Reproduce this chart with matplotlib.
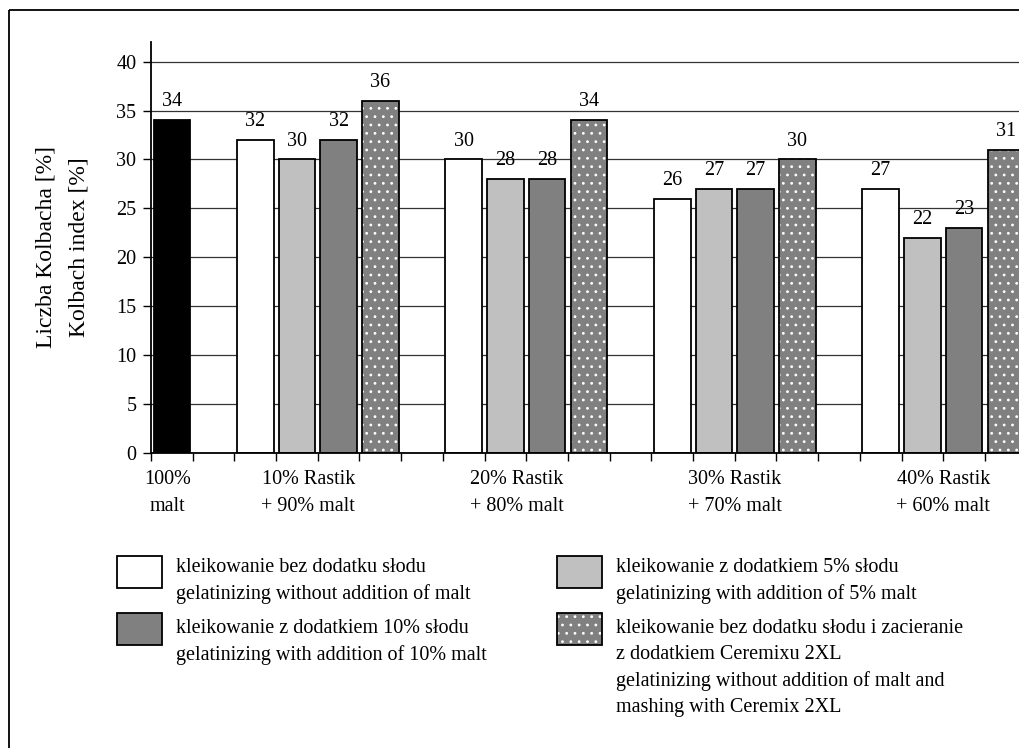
import numpy as np
import matplotlib.pyplot as plt
from matplotlib.patches import Rectangle

plt.rcParams['font.family'] = ['Liberation Serif', 'DejaVu Serif']
plt.rcParams['hatch.linewidth'] = 0.8

# Dane
control_label = '100%\nmalt'
control_value = 34
group_labels = ['10% Rastik\n+ 90% malt', '20% Rastik\n+ 80% malt',
                '30% Rastik\n+ 70% malt', '40% Rastik\n+ 60% malt']
no_malt = [32, 30, 26, 27]
malt_5 = [30, 28, 27, 22]
malt_10 = [32, 28, 27, 23]
ceremix = [36, 34, 30, 31]
series = [no_malt, malt_5, malt_10, ceremix]
series_names = [
    'kleikowanie bez dodatku słodu\ngelatinizing without addition of malt',
    'kleikowanie z dodatkiem 5% słodu\ngelatinizing with addition of 5% malt',
    'kleikowanie z dodatkiem 10% słodu\ngelatinizing with addition of 10% malt',
    'kleikowanie bez dodatku słodu i zacieranie\nz dodatkiem Ceremixu 2XL\n'
    'gelatinizing without addition of malt and\nmashing with Ceremix 2XL',
]
y_ticks = np.arange(0, 41, 5)

# Styl
face_colors = ['white', '#c0c0c0', '#808080', '#808080']
hatches = [None, None, None, '..']
bar_w = 0.88
label_x = [0.39, 3.77, 8.77, 14.0, 19.0]

W, H = 1020, 748
fig = plt.figure(figsize=(W / 100, H / 100), dpi=100)

# warstwa w pikselach: ramka i legenda
over = fig.add_axes([0, 0, 1, 1], zorder=0)
over.set_xlim(0, W)
over.set_ylim(H, 0)
over.axis('off')
over.add_patch(Rectangle((9.5, 9.5), 1200, 1000, fill=False, lw=1.3, ec='black'))

ax = fig.add_axes([151 / W, 1 - 453 / H, (W - 151) / W, (453 - 42) / H], zorder=1)
ax.patch.set_alpha(0)


def draw_bar(x, h, fc, hatch):
    if hatch:
        ax.bar(x, h, width=bar_w, color=fc, edgecolor='white', hatch=hatch, lw=0, zorder=2)
        ax.bar(x, h, width=bar_w, color='none', edgecolor='black', lw=1.3, zorder=3)
    else:
        ax.bar(x, h, width=bar_w, color=fc, edgecolor='black', lw=1.3, zorder=2)
    ax.annotate(f'{h}', (x, h), xytext=(0, 10), textcoords='offset points',
                ha='center', va='baseline', fontsize=14.5)


draw_bar(0.5, control_value, 'black', None)
for g in range(len(group_labels)):
    for s, vals in enumerate(series):
        draw_bar(2 + 5 * g + s + 0.5, vals[g], face_colors[s], hatches[s])

ax.set_xlim(0, (W - 151) / 41.7)
ax.set_ylim(0, 42)
ax.set_yticks(y_ticks)
ax.set_xticks(np.arange(0, 21))
ax.set_xticklabels([])
ax.yaxis.grid(True, color='#333333', lw=0.9, zorder=0)
ax.set_axisbelow(True)
ax.tick_params(direction='out', length=5.5, width=1, labelsize=14.5, pad=5)
for side in ['top', 'right']:
    ax.spines[side].set_visible(False)
for side in ['left', 'bottom']:
    ax.spines[side].set_linewidth(1.3)

for x, lab in zip(label_x, [control_label] + group_labels):
    ax.annotate(lab, (x, 0), xytext=(0, -12), textcoords='offset points',
                ha='center', va='top', fontsize=14.5, linespacing=1.6)

fig.text(63 / W, 1 - 247 / H, 'Liczba Kolbacha [%]\nKolbach index [%]',
         rotation=90, ha='center', va='center', fontsize=17, linespacing=1.75)

# legenda
leg_pos = [(117, 556), (557, 556), (117, 613), (557, 613)]
leg_text_dy = [2, 2, 6, 6]
for (px, py), dy, name, fc, hatch in zip(leg_pos, leg_text_dy, series_names,
                                         face_colors, hatches):
    if hatch:
        over.add_patch(Rectangle((px, py), 45, 32, fc=fc, ec='white', hatch=hatch, lw=0))
        over.add_patch(Rectangle((px, py), 45, 32, fill=False, ec='black', lw=1.3))
    else:
        over.add_patch(Rectangle((px, py), 45, 32, fc=fc, ec='black', lw=1.3))
    over.text(px + 59, py + dy, name, ha='left', va='top', fontsize=14.5, linespacing=1.5)

fig.savefig('out.png', dpi=100)
